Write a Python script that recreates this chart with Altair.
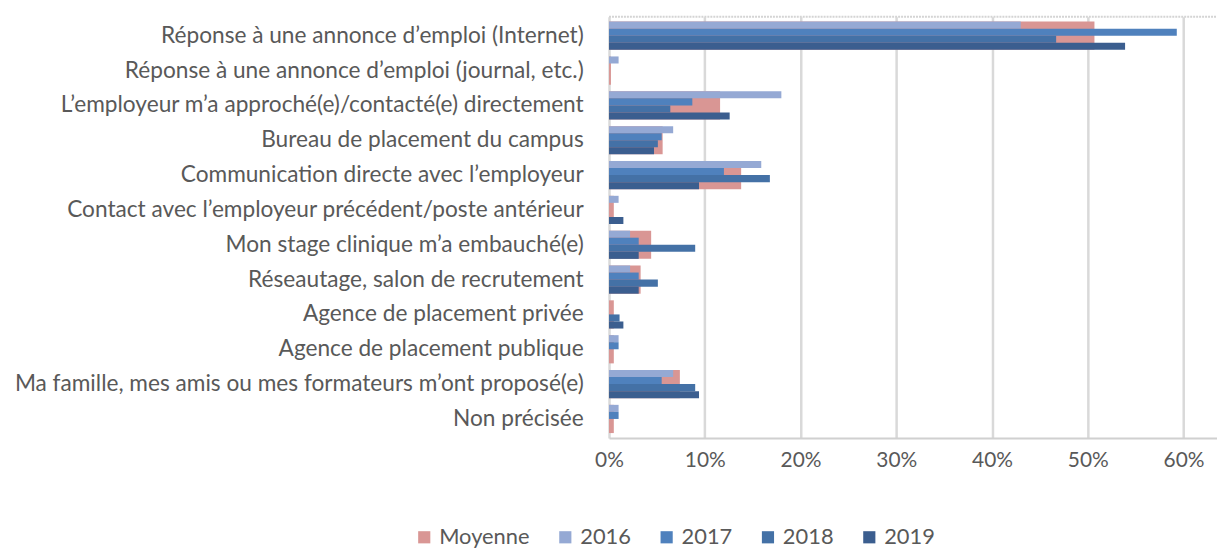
import altair as alt
import pandas as pd

categories = [
    "Réponse à une annonce d’emploi (Internet)",
    "Réponse à une annonce d’emploi (journal, etc.)",
    "L’employeur m’a approché(e)/contacté(e) directement",
    "Bureau de placement du campus",
    "Communication directe avec l’employeur",
    "Contact avec l’employeur précédent/poste antérieur",
    "Mon stage clinique m’a embauché(e)",
    "Réseautage, salon de recrutement",
    "Agence de placement privée",
    "Agence de placement publique",
    "Ma famille, mes amis ou mes formateurs m’ont proposé(e)",
    "Non précisée",
]
moyenne = [50.7, 0.2, 11.6, 5.6, 13.8, 0.5, 4.4, 3.3, 0.5, 0.5, 7.4, 0.5]
y2016 = [43.0, 1.0, 18.0, 6.7, 15.9, 1.0, 2.2, 2.2, 0.0, 1.0, 6.7, 1.0]
y2017 = [59.3, 0.0, 8.7, 5.5, 12.0, 0.0, 3.1, 3.1, 0.0, 1.0, 5.5, 1.0]
y2018 = [46.7, 0.0, 6.4, 5.1, 16.8, 0.0, 9.0, 5.1, 1.1, 0.0, 9.0, 0.0]
y2019 = [53.9, 0.0, 12.6, 4.7, 9.4, 1.5, 3.1, 3.1, 1.5, 0.0, 9.4, 0.0]

series = ["Moyenne", "2016", "2017", "2018", "2019"]
colors = ["#d99694", "#95a9d4", "#4f81bd", "#4471a6", "#3b5e8f"]
years = series[1:]

df_m = pd.DataFrame({"cat": categories, "val": [v / 100 for v in moyenne], "serie": "Moyenne"})
rows = []
for yr, vals in zip(years, [y2016, y2017, y2018, y2019]):
    for c, v in zip(categories, vals):
        rows.append({"cat": c, "val": v / 100, "serie": yr})
df_y = pd.DataFrame(rows)

FONT = "Lato"
GREY = "#595959"
W = 612
H = 424

x_enc = alt.X(
    "val:Q",
    scale=alt.Scale(domain=[0, 0.635], nice=False),
    axis=alt.Axis(
        values=[0, 0.1, 0.2, 0.3, 0.4, 0.5, 0.6],
        format=".0%",
        title=None,
        ticks=False,
        labelFlush=False,
        domainColor="#d0d0d0",
        domainWidth=2,
        gridColor="#d9d9d9",
        gridWidth=2.5,
        labelFontSize=21,
        labelColor=GREY,
        labelFont=FONT,
        labelPadding=12,
    ),
)
y_enc = alt.Y(
    "cat:N",
    sort=categories,
    scale=alt.Scale(paddingInner=0.19, paddingOuter=0.14),
    axis=alt.Axis(
        title=None,
        ticks=False,
        domain=False,
        labelFontSize=22.8,
        labelColor=GREY,
        labelFont=FONT,
        labelPadding=26,
        labelLimit=700,
    ),
)
color_enc = alt.Color(
    "serie:N",
    scale=alt.Scale(domain=series, range=colors),
    legend=alt.Legend(
        title=None,
        orient="none",
        legendX=-197,
        legendY=513,
        direction="horizontal",
        symbolType="square",
        symbolSize=150,
        symbolStrokeWidth=0,
        labelFontSize=22,
        labelColor=GREY,
        labelFont=FONT,
        labelOffset=4,
        columnPadding=24,
    ),
)

base_m = alt.Chart(df_m).mark_bar().encode(x=x_enc, y=y_enc, color=color_enc)
base_y = alt.Chart(df_y).mark_bar().encode(
    x=x_enc,
    y=y_enc,
    color=color_enc,
    yOffset=alt.YOffset("serie:N", sort=years, scale=alt.Scale(paddingInner=0, paddingOuter=0)),
)
top_line = alt.Chart(pd.DataFrame({"a": [0]})).mark_rule(
    color="#d4d4d4", strokeWidth=2, strokeDash=[2, 1]
).encode(x=alt.value(0), x2=alt.value(W), y=alt.value(0))

chart = (
    alt.layer(base_m, base_y, top_line)
    .properties(
        width=W,
        height=H,
        autosize=alt.AutoSizeParams(type="none"),
        padding={"left": 605, "top": 7, "right": 0, "bottom": 109},
    )
    .configure_view(stroke=None)
)

chart.save("out.html", embed_options={"renderer": "svg", "actions": False})
